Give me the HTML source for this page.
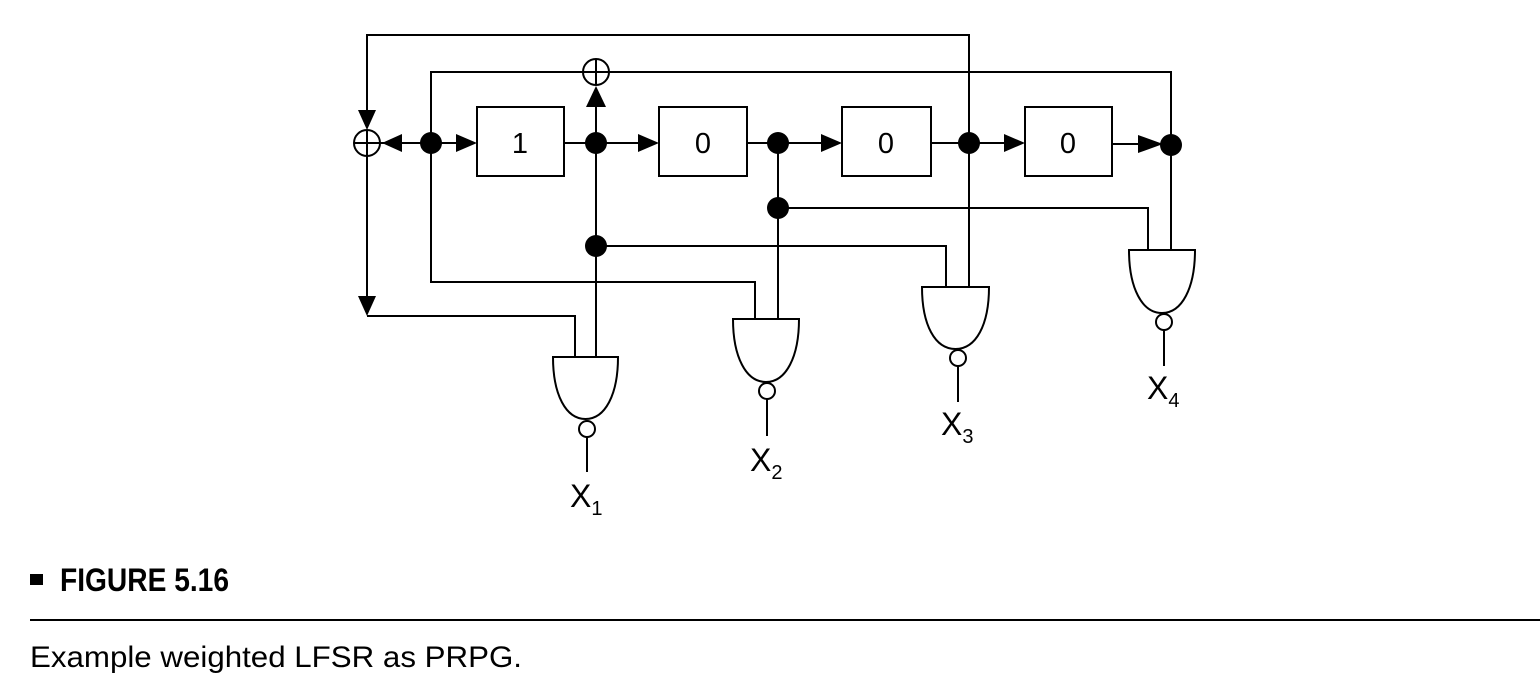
<!DOCTYPE html>
<html><head><meta charset="utf-8"><style>html,body{margin:0;padding:0;background:#fff}svg{display:block}</style></head>
<body>
<svg width="1540" height="696" viewBox="0 0 1540 696" xmlns="http://www.w3.org/2000/svg" font-family="Liberation Sans, sans-serif">
<g stroke="#000" stroke-width="2" fill="none">
<polyline points="367,110 367,35 969,35 969,287"/>
<polyline points="431,143 431,72 583,72"/>
<polyline points="609,72 1171,72 1171,250"/>
<line x1="367" y1="156" x2="367" y2="298"/>
<polyline points="367,316 575,316 575,357"/>
<line x1="380" y1="143" x2="460" y2="143"/>
<line x1="564" y1="143" x2="642" y2="143"/>
<line x1="747" y1="143" x2="825" y2="143"/>
<line x1="931" y1="143" x2="1008" y2="143"/>
<line x1="1112" y1="144" x2="1155" y2="144"/>
<line x1="596" y1="105" x2="596" y2="357"/>
<polyline points="596,246 946,246 946,287"/>
<polyline points="431,143 431,282 755,282 755,319"/>
<line x1="778" y1="143" x2="778" y2="319"/>
<polyline points="778,208 1148,208 1148,250"/>
<rect x="477" y="107" width="87" height="69"/>
<rect x="659" y="107" width="88" height="69"/>
<rect x="842" y="107" width="89" height="69"/>
<rect x="1025" y="107" width="87" height="69"/>
<circle cx="367" cy="143" r="13"/><line x1="354" y1="143" x2="380" y2="143"/><line x1="367" y1="130" x2="367" y2="156"/>
<circle cx="596" cy="72" r="13"/><line x1="583" y1="72" x2="609" y2="72"/><line x1="596" y1="59" x2="596" y2="85"/>
<path d="M553,357 L618,357 C618,395 605,419 585.5,419 C566,419 553,395 553,357 Z" fill="#fff"/>
<circle cx="587" cy="429" r="8" fill="#fff"/><line x1="587" y1="437" x2="587" y2="472"/>
<path d="M733,319 L799,319 C799,357 786,382 766,382 C746,382 733,357 733,319 Z" fill="#fff"/>
<circle cx="767" cy="391" r="8" fill="#fff"/><line x1="767" y1="399" x2="767" y2="436"/>
<path d="M922,287 L989,287 C989,325 976,349 955.5,349 C935,349 922,325 922,287 Z" fill="#fff"/>
<circle cx="958" cy="358" r="8" fill="#fff"/><line x1="958" y1="366" x2="958" y2="402"/>
<path d="M1129,250 L1195,250 C1195,288 1182,313 1162,313 C1142,313 1129,288 1129,250 Z" fill="#fff"/>
<circle cx="1164" cy="322" r="8" fill="#fff"/><line x1="1164" y1="330" x2="1164" y2="366"/>
<line x1="30" y1="620" x2="1540" y2="620"/>
</g>
<g fill="#000">
<polygon points="367,130 358,110 376,110"/>
<polygon points="367,316 358,296 376,296"/>
<polygon points="382,143 402,134 402,152"/>
<polygon points="477,143 456,134 456,152"/>
<polygon points="596,86 586,107 606,107"/>
<polygon points="659,143 638,134 638,152"/>
<polygon points="842,143 821,134 821,152"/>
<polygon points="1025,143 1004,134 1004,152"/>
<polygon points="1163,144 1138,135 1138,153"/>
<circle cx="431" cy="143" r="11"/>
<circle cx="596" cy="143" r="11"/>
<circle cx="778" cy="143" r="11"/>
<circle cx="969" cy="143" r="11"/>
<circle cx="1171" cy="145" r="11"/>
<circle cx="778" cy="208" r="11"/>
<circle cx="596" cy="246" r="11"/>
<g font-size="29" text-anchor="middle">
<text x="520" y="153">1</text><text x="703" y="153">0</text><text x="886" y="153">0</text><text x="1068" y="153">0</text>
</g>
<g font-size="32">
<text x="570" y="507">X<tspan font-size="20" dy="8">1</tspan></text>
<text x="750" y="471">X<tspan font-size="20" dy="8">2</tspan></text>
<text x="941" y="435">X<tspan font-size="20" dy="8">3</tspan></text>
<text x="1147" y="399">X<tspan font-size="20" dy="8">4</tspan></text>
</g>
<rect x="30" y="574" width="13" height="11"/>
<text x="60" y="591" font-size="32" font-weight="bold" textLength="169" lengthAdjust="spacingAndGlyphs">FIGURE 5.16</text>
<text x="30" y="667" font-size="30" textLength="492" lengthAdjust="spacingAndGlyphs">Example weighted LFSR as PRPG.</text>
</g>
</svg>
</body></html>
